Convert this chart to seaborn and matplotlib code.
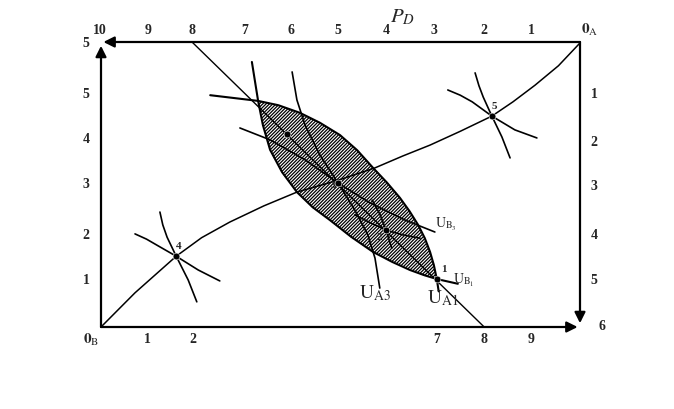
import numpy as np
import seaborn as sns
import matplotlib.pyplot as plt

# Edgeworth box, values (box is 10 wide, 6 high, origin O_B)
contract_x = [0, 0.71, 1.57, 2.1, 2.69, 3.4, 4.09, 4.95, 5.72, 6.3, 6.87, 7.5, 8.16, 8.6, 9.06, 9.55, 10]
contract_y = [0, 0.72, 1.49, 1.88, 2.21, 2.55, 2.84, 3.09, 3.35, 3.6, 3.83, 4.12, 4.44, 4.74, 5.09, 5.5, 5.98]

price_x = [1.9, 8.0]
price_y = [6.0, 0.0]

# U_A1 (upper-right arc of the lens), with short extensions at both ends
ua1_x = [2.28, 3.28, 3.7, 4.15, 4.57, 4.99, 5.35, 5.68, 5.97, 6.24, 6.44, 6.62, 6.76, 6.87, 6.95, 7.01, 7.05]
ua1_y = [4.88, 4.76, 4.67, 4.51, 4.3, 4.04, 3.72, 3.35, 3.04, 2.72, 2.44, 2.15, 1.87, 1.58, 1.3, 1.01, 0.75]
# U_B1 (lower-left arc of the lens)
ub1_x = [3.15, 3.28, 3.38, 3.53, 3.78, 4.09, 4.42, 4.78, 5.22, 5.68, 6.08, 6.45, 6.75, 7.01, 7.45]
ub1_y = [5.58, 4.76, 4.25, 3.73, 3.26, 2.84, 2.52, 2.25, 1.9, 1.58, 1.37, 1.2, 1.09, 1.01, 0.91]

ua3_x = [3.99, 4.09, 4.26, 4.57, 4.95, 5.30, 5.57, 5.72, 5.82]
ua3_y = [5.37, 4.78, 4.25, 3.62, 3.03, 2.46, 1.94, 1.45, 0.82]
ub3_x = [2.90, 3.53, 4.26, 4.95, 5.62, 6.35, 6.97]
ub3_y = [4.19, 3.94, 3.52, 3.03, 2.61, 2.25, 2.00]

ua2_x = [5.66, 5.82, 5.95, 6.07]
ua2_y = [2.67, 2.38, 2.04, 1.66]
ub2_x = [5.30, 5.65, 5.95, 6.3, 6.66]
ub2_y = [2.36, 2.18, 2.04, 1.94, 1.87]

p4a_x = [1.23, 1.29, 1.38, 1.57, 1.82, 2.00]
p4a_y = [2.42, 2.15, 1.89, 1.49, 0.99, 0.53]
p4b_x = [0.71, 0.95, 1.19, 1.57, 2.03, 2.48]
p4b_y = [1.96, 1.85, 1.71, 1.49, 1.20, 0.97]
p5a_x = [7.81, 7.89, 7.98, 8.16, 8.37, 8.54]
p5a_y = [5.35, 5.08, 4.84, 4.44, 4.00, 3.56]
p5b_x = [7.24, 7.5, 7.75, 8.16, 8.64, 9.10]
p5b_y = [4.99, 4.88, 4.74, 4.44, 4.15, 3.98]

pt_x = [7.01, 5.96, 4.95, 1.57, 8.16, 3.88]
pt_y = [1.01, 2.04, 3.03, 1.49, 4.44, 4.07]

bottom_ticks = ["1", "2", "7", "8", "9"]
bottom_pos = [0.96, 1.92, 7.0, 8.0, 8.97]
top_ticks = ["10", "9", "8", "7", "6", "5", "4", "3", "2", "1"]
top_pos = [-0.02, 0.98, 1.9, 3.0, 3.97, 4.95, 5.95, 6.95, 8.0, 8.98]
left_ticks = ["1", "2", "3", "4", "5", "5"]
left_pos = [0.97, 1.92, 2.99, 3.94, 4.9, 5.96]
right_ticks = ["1", "2", "3", "4", "5"]
right_pos = [4.9, 3.89, 2.95, 1.92, 0.97]

sns.set_style("white")
plt.rcParams["font.family"] = ["Liberation Serif", "DejaVu Serif"]
plt.rcParams["mathtext.fontset"] = "stix"
plt.rcParams["hatch.linewidth"] = 0.9

fig = plt.figure(figsize=(6.74, 4.09), dpi=100)
ax = fig.add_axes([101 / 674, 82 / 409, 479 / 674, 285 / 409])
ax.set_xlim(0, 10)
ax.set_ylim(0, 6)
ax.axis("off")

# hatched lens between U_A1 and U_B1
lens_x = np.concatenate([ua1_x[1:-1], ub1_x[1:-1][::-1]])
lens_y = np.concatenate([ua1_y[1:-1], ub1_y[1:-1][::-1]])
ax.fill(lens_x, lens_y, facecolor="white", edgecolor="black", hatch="//////////", lw=0)


def curve(xs, ys, lw=1.2):
    sns.lineplot(x=xs, y=ys, sort=False, estimator=None, color="black", lw=lw, ax=ax)


curve(contract_x, contract_y, 1.1)
curve(price_x, price_y, 1.0)
curve(ua1_x, ua1_y, 1.5)
curve(ub1_x, ub1_y, 1.5)
for xs, ys in [(ua3_x, ua3_y), (ub3_x, ub3_y), (ua2_x, ua2_y), (ub2_x, ub2_y),
               (p4a_x, p4a_y), (p4b_x, p4b_y), (p5a_x, p5a_y), (p5b_x, p5b_y)]:
    curve(xs, ys)

sns.scatterplot(x=pt_x, y=pt_y, color="black", s=24, ax=ax, zorder=5)

# box edges with arrows
arr = dict(arrowstyle="-|>", color="black", lw=1.6, mutation_scale=16, shrinkA=0, shrinkB=0)
ax.annotate("", xy=(9.95, 0), xytext=(0, 0), arrowprops=arr, annotation_clip=False)
ax.annotate("", xy=(0, 5.92), xytext=(0, 0), arrowprops=arr, annotation_clip=False)
ax.annotate("", xy=(0.05, 6), xytext=(10, 6), arrowprops=arr, annotation_clip=False)
ax.annotate("", xy=(10, 0.08), xytext=(10, 6), arrowprops=arr, annotation_clip=False)

fs = 10
tk = dict(fontsize=fs, fontweight="bold", ha="center", va="center", clip_on=False)
for t, p in zip(bottom_ticks, bottom_pos):
    ax.text(p, -0.27, t, **tk)
for t, p in zip(top_ticks, top_pos):
    ax.text(p, 6.25, t, **tk)
for t, p in zip(left_ticks, left_pos):
    ax.text(-0.31, p, t, **tk)
for t, p in zip(right_ticks, right_pos):
    ax.text(10.29, p, t, **tk)
ax.text(10.46, 0.0, "6", **tk)
ax.text(-0.2, -0.27, r"$\mathbf{0}_{\mathrm{B}}$", fontsize=11, ha="center", va="center")
ax.text(10.2, 6.25, r"$\mathbf{0}_{\mathrm{A}}$", fontsize=11, ha="center", va="center")
ax.text(6.3, 6.52, r"$P_{D}$", fontsize=15, ha="center", va="center")

# point labels
lab = dict(fontsize=8, fontweight="bold", ha="center", va="center")
ax.text(7.15, 1.2, "1", **lab)
ax.text(5.82, 1.88, "2", **lab)
ax.text(4.85, 2.98, "3", **lab)
ax.text(1.62, 1.7, "4", **lab)
ax.text(8.22, 4.65, "5", **lab)

ax.text(5.72, 0.72, r"$\mathrm{U}_{\mathrm{A3}}$", fontsize=14, ha="center", va="center")
ax.text(7.14, 0.6, r"$\mathrm{U}_{\mathrm{A1}}$", fontsize=14, ha="center", va="center")
ax.text(7.2, 2.15, r"$\mathrm{U}_{\mathrm{B}_3}$", fontsize=10, ha="center", va="center")
ax.text(7.58, 0.98, r"$\mathrm{U}_{\mathrm{B}_1}$", fontsize=10, ha="center", va="center")

fig.savefig("out.png", dpi=100)
